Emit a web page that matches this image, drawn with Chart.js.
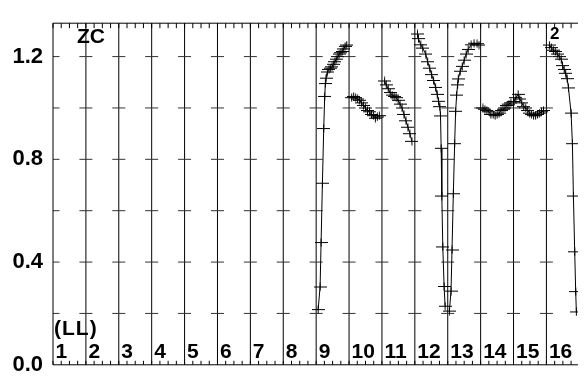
<!DOCTYPE html>
<html><head><meta charset="utf-8">
<script src="https://cdn.jsdelivr.net/npm/chart.js@4.4.1/dist/chart.umd.min.js"></script>
<style>html,body{margin:0;padding:0;background:#fff}#wrap{width:584px;height:388px;position:relative}</style>
</head><body><div id="wrap"><canvas id="c" width="584" height="388"></canvas></div>
<script>
// Segment labels (drawn right of each vertical divider)
const segmentLabels = ['1','2','3','4','5','6','7','8','9','10','11','12','13','14','15','16'];
const yTickValues = [0.0, 0.4, 0.8, 1.2];
const yMarkValues = [0.2, 0.4, 0.6, 0.8, 1.0, 1.2];

// Data per segment (x in segment units, y values)
const seg9x  = [8.06,8.12,8.15,8.19,8.23,8.26,8.28,8.30,8.34,8.39,8.43,8.48,8.52,8.57,8.61,8.66,8.70,8.75,8.79,8.84,8.88,8.93];
const seg9y  = [0.215,0.303,0.476,0.707,0.92,1.045,1.095,1.116,1.14,1.15,1.155,1.16,1.17,1.18,1.19,1.20,1.21,1.215,1.22,1.23,1.24,1.245];
const seg10x = [9.08,9.14,9.20,9.26,9.32,9.38,9.44,9.50,9.56,9.62,9.68,9.74,9.80,9.86,9.92];
const seg10y = [1.04,1.045,1.04,1.035,1.03,1.02,1.01,1.0,0.99,0.985,0.975,0.97,0.96,0.965,0.97];
const seg11x = [10.08,10.13,10.19,10.25,10.31,10.37,10.43,10.49,10.55,10.61,10.67,10.73,10.79,10.85,10.91];
const seg11y = [1.105,1.09,1.075,1.06,1.05,1.045,1.04,1.03,1.015,1.0,0.975,0.95,0.925,0.9,0.87];
const seg12x = [11.08,11.11,11.18,11.24,11.33,11.39,11.45,11.51,11.57,11.63,11.68,11.72,11.76,11.78,11.80,11.82,11.85,11.89,11.92];
const seg12y = [1.288,1.27,1.246,1.233,1.21,1.18,1.155,1.13,1.107,1.08,1.053,1.026,1.005,0.969,0.843,0.657,0.459,0.305,0.228];
const seg13x = [12.05,12.10,12.13,12.17,12.21,12.24,12.27,12.30,12.32,12.38,12.44,12.50,12.56,12.62,12.71,12.80,12.89,12.95];
const seg13y = [0.209,0.287,0.447,0.666,0.861,0.987,1.05,1.09,1.113,1.143,1.162,1.186,1.21,1.228,1.246,1.252,1.25,1.245];
const seg14x = [13.07,13.13,13.19,13.25,13.31,13.38,13.44,13.50,13.56,13.62,13.68,13.74,13.80,13.86,13.92];
const seg14y = [1.0,0.995,0.99,0.985,0.975,0.975,0.97,0.975,0.98,0.99,0.995,1.0,1.01,1.015,1.02];
const seg15x = [14.01,14.07,14.14,14.19,14.25,14.31,14.37,14.43,14.49,14.55,14.61,14.67,14.73,14.79,14.85,14.91];
const seg15y = [1.025,1.04,1.053,1.035,1.02,1.005,1.0,0.99,0.98,0.975,0.97,0.97,0.975,0.98,0.985,0.99];
const seg16x = [15.09,15.15,15.21,15.27,15.33,15.39,15.45,15.49,15.54,15.585,15.63,15.67,15.75,15.79,15.82,15.86,15.89,15.91];
const seg16y = [1.245,1.235,1.225,1.22,1.21,1.2,1.19,1.165,1.15,1.135,1.114,1.078,0.98,0.861,0.657,0.44,0.285,0.206];

const segments = [[seg9x,seg9y],[seg10x,seg10y],[seg11x,seg11y],[seg12x,seg12y],[seg13x,seg13y],[seg14x,seg14y],[seg15x,seg15y],[seg16x,seg16y]];

// plus marker: wide horizontal bar, shorter vertical bar
const plus = document.createElement('canvas');
plus.width = 13; plus.height = 9;
(function(){const g = plus.getContext('2d'); g.strokeStyle='#000'; g.lineWidth=1;
  g.beginPath(); g.moveTo(0,4.5); g.lineTo(13,4.5); g.moveTo(6.5,0.5); g.lineTo(6.5,8.5); g.stroke();})();

const FONT = '"Liberation Sans", Arial, sans-serif';

const decor = {
  id: 'decor',
  beforeDatasetsDraw(chart) {
    const {ctx, chartArea: a, scales: {x, y}} = chart;
    ctx.save();
    ctx.strokeStyle = '#000';
    ctx.lineWidth = 1;
    // vertical dividers
    for (let k = 1; k <= 15; k++) {
      const px = x.getPixelForValue(k);
      ctx.beginPath(); ctx.moveTo(px, a.top); ctx.lineTo(px, a.bottom); ctx.stroke();
    }
    // short horizontal marks
    ctx.strokeStyle = '#333';
    for (let k = 0; k <= 15; k++) {
      const px = x.getPixelForValue(k);
      for (const v of yMarkValues) {
        const py = y.getPixelForValue(v);
        ctx.beginPath();
        ctx.moveTo(k === 0 ? px : px - 6.5, py); ctx.lineTo(px + 6.5, py); ctx.stroke();
      }
    }
    // axes
    ctx.strokeStyle = '#000';
    ctx.beginPath();
    ctx.moveTo(a.left, a.top); ctx.lineTo(a.right, a.top);
    ctx.moveTo(a.left, a.bottom); ctx.lineTo(a.right, a.bottom);
    ctx.moveTo(a.left, a.top); ctx.lineTo(a.left, a.bottom);
    ctx.stroke();
    // minor ticks on top and bottom
    ctx.beginPath();
    for (let t = 0; t <= x.max + 1e-9; t += 0.25) {
      const px = x.getPixelForValue(t);
      ctx.moveTo(px, a.top); ctx.lineTo(px, a.top + 5);
      ctx.moveTo(px, a.bottom); ctx.lineTo(px, a.bottom - 4);
    }
    ctx.stroke();
    ctx.restore();
  },
  afterDatasetsDraw(chart) {
    const {ctx, scales: {x}} = chart;
    ctx.save();
    ctx.fillStyle = '#000';
    ctx.textBaseline = 'alphabetic';
    ctx.textAlign = 'left';
    ctx.font = 'bold 21px ' + FONT;
    segmentLabels.forEach((s, i) => {
      ctx.fillText(s, x.getPixelForValue(i) + 2.5, 358);
    });
    ctx.letterSpacing = '1px';
    ctx.fillText('(LL)', x.getPixelForValue(0) + 1, 335);
    ctx.letterSpacing = '0px';
    ctx.font = 'bold 21px ' + FONT;
    ctx.fillText('ZC', 77, 43);
    ctx.font = 'bold 17px ' + FONT;
    ctx.fillText('2', 550, 39);
    ctx.restore();
  }
};

new Chart(document.getElementById('c'), {
  type: 'line',
  data: {
    datasets: segments.map(([xs, ys]) => ({
      data: xs.map((xv, i) => ({x: xv, y: ys[i]})),
      borderColor: '#000', borderWidth: 1, tension: 0,
      pointStyle: plus, pointRadius: 5, pointHoverRadius: 5,
      fill: false
    }))
  },
  options: {
    responsive: false, animation: false, devicePixelRatio: 1,
    layout: {padding: {top: 10, right: 0, bottom: 0, left: 0}},
    plugins: {legend: {display: false}, tooltip: {enabled: false}},
    events: [],
    scales: {
      x: {
        type: 'linear', min: 0, max: 15.96,
        ticks: {display: false},
        grid: {display: false, drawTicks: false},
        border: {display: false},
        afterFit: s => { s.height = 9; }
      },
      y: {
        type: 'linear', min: 0, max: 1.33,
        ticks: {stepSize: 0.4, includeBounds: false, padding: 10, color: '#000',
          font: {family: FONT, size: 22, weight: 'bold'},
          callback: v => yTickValues.some(t => Math.abs(t - v) < 1e-6) ? v.toFixed(1) : ''},
        grid: {display: false, drawTicks: false},
        border: {display: false},
        afterFit: s => { s.width = 53; }
      }
    }
  },
  plugins: [decor]
});
</script>
</body></html>
